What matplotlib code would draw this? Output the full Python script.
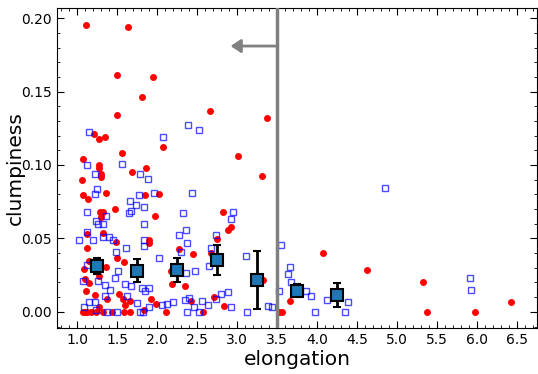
import matplotlib
matplotlib.use("Agg")
import matplotlib.pyplot as plt
from matplotlib.ticker import MultipleLocator

red_x = [1.11, 1.64, 1.50, 1.95, 1.81, 2.66, 1.50, 1.21, 1.27, 1.35, 2.07, 1.56, 1.08,
         3.37, 3.01, 3.31, 1.28, 1.27, 1.69, 1.86, 1.30, 1.30, 1.06, 1.36, 1.07, 1.14,
         1.85, 2.02, 1.48, 1.29, 1.33, 1.30, 1.98, 2.83, 2.92, 2.89, 1.13, 1.33, 1.49,
         1.90, 1.90, 2.75, 1.12, 2.27, 2.45, 2.67, 1.50, 1.15, 1.59, 1.36, 1.09, 2.18,
         1.27, 1.10, 1.15, 2.19, 2.35, 3.33, 4.08, 4.63, 5.33, 6.43, 1.11, 1.22, 1.38,
         1.52, 1.57, 1.66, 1.60, 1.27, 1.92, 1.99, 2.43, 2.71, 2.84, 3.66, 1.84,
         1.07, 1.10, 1.13, 1.17, 1.24, 1.32, 1.44, 1.59, 1.66, 2.11, 2.57, 3.53, 3.56,
         5.38, 5.97]
red_y = [0.195, 0.194, 0.161, 0.160, 0.146, 0.137, 0.134, 0.121, 0.118, 0.119, 0.1125,
         0.108, 0.104, 0.132, 0.106, 0.0927, 0.0998, 0.098, 0.095, 0.0977, 0.094, 0.0916,
         0.090, 0.0812, 0.0798, 0.0771, 0.0796, 0.0803, 0.0699, 0.068, 0.068, 0.0649,
         0.065, 0.068, 0.058, 0.056, 0.053, 0.054, 0.0476, 0.049, 0.047, 0.0497, 0.0433,
         0.043, 0.0395, 0.040, 0.0365, 0.0347, 0.0338, 0.0304, 0.029, 0.028, 0.0245,
         0.0222, 0.0195, 0.0188, 0.0177, 0.0218, 0.0403, 0.0284, 0.0204, 0.0066, 0.0143,
         0.0116, 0.0086, 0.012, 0.0086, 0.0075, 0.0048, 0.0036, 0.0086, 0.0056, 0.0073,
         0.0102, 0.0039, 0.0073, 0.001,
         0, 0, 0, 0, 0, 0, 0, 0, 0, 0, 0, 0, 0, 0, 0]

blue_x = [1.15, 2.08, 2.39, 2.52, 1.12, 1.56, 1.22, 1.79, 1.89, 1.25, 1.23, 1.77, 1.96,
          2.44, 1.66, 1.74, 1.84, 2.95, 2.92, 1.12, 1.67, 1.65, 1.36, 1.24, 1.26, 1.32,
          1.84, 2.32, 1.12, 1.20, 1.02, 1.33, 1.40, 1.45, 1.84, 1.84, 2.36, 2.27, 2.74,
          2.38, 1.61, 1.49, 2.30, 2.67, 2.02, 1.13, 1.51, 2.65, 2.36, 2.48, 3.11, 3.55,
          4.85, 3.66, 3.64, 3.68, 1.48, 1.07, 1.26, 1.60, 1.68, 1.35, 1.81, 1.85, 1.90,
          1.41, 1.35, 1.63, 1.75, 1.15, 1.22, 1.09, 1.24, 1.90, 2.06, 2.13, 2.20, 2.35,
          2.40, 2.56, 2.64, 2.89, 2.80, 2.74, 2.92, 2.46, 3.52, 3.86, 3.93, 4.13, 4.39,
          3.39, 3.44, 5.91, 5.93,
          1.38, 1.50, 1.79, 1.83, 2.37, 2.52, 3.13, 3.98, 4.35]
blue_y = [0.1226, 0.119, 0.127, 0.124, 0.100, 0.101, 0.0937, 0.0937, 0.0907, 0.0839,
          0.0805, 0.0798, 0.0807, 0.081, 0.0755, 0.0728, 0.0712, 0.068, 0.063, 0.0678,
          0.069, 0.0675, 0.065, 0.062, 0.060, 0.060, 0.0597, 0.067, 0.0547, 0.0488,
          0.049, 0.0508, 0.0512, 0.049, 0.0488, 0.045, 0.056, 0.052, 0.052, 0.047,
          0.0437, 0.041, 0.041, 0.0435, 0.037, 0.032, 0.028, 0.031, 0.0265, 0.028,
          0.0383, 0.0454, 0.0844, 0.0308, 0.0256, 0.0206, 0.0231, 0.021, 0.021, 0.0193,
          0.0179, 0.0184, 0.0159, 0.0145, 0.0165, 0.0148, 0.011, 0.011, 0.0063, 0.0066,
          0.0068, 0.0036, 0.0014, 0.0036, 0.005, 0.0052, 0.0066, 0.0082, 0.0093, 0.0073,
          0.005, 0.0134, 0.0122, 0.0086, 0.0032, 0.003, 0.0141, 0.0145, 0.0109, 0.008,
          0.0066, 0.0043, 0.0036, 0.0233, 0.0152,
          0, 0, 0, 0, 0, 0, 0, 0, 0]

bin_x = [1.25, 1.75, 2.25, 2.75, 3.25, 3.75, 4.25]
bin_y = [0.0315, 0.0281, 0.0286, 0.0354, 0.0218, 0.0143, 0.0116]
bin_err = [0.0055, 0.008, 0.008, 0.0102, 0.0198, 0.0044, 0.0082]

cut_x = 3.5
arrow_end_x = 2.92
arrow_y = 0.181

fig = plt.figure(figsize=(5.38, 3.74), dpi=100)
ax = fig.add_axes([0.106, 0.123, 0.892, 0.856])

ax.plot(red_x, red_y, 'o', color='red', markersize=5, markeredgewidth=0, zorder=2)
ax.plot(blue_x, blue_y, 's', markerfacecolor='none', markeredgecolor='blue',
        markersize=5, markeredgewidth=1.0, alpha=0.7, zorder=3)
ax.axvline(cut_x, color='gray', lw=2.5, zorder=4)
ax.annotate('', xy=(arrow_end_x, arrow_y), xytext=(cut_x, arrow_y),
            arrowprops=dict(arrowstyle='-|>,head_length=0.6,head_width=0.4',
                            color='gray', lw=2, shrinkA=0, shrinkB=0), zorder=4)
ax.errorbar(bin_x, bin_y, yerr=bin_err, fmt='s', color='#1f77b4', markersize=8,
            markeredgecolor='black', markeredgewidth=1.5, ecolor='black',
            elinewidth=2, capsize=3, capthick=2, zorder=5)

ax.set_xlim(0.75, 6.75)
ax.set_ylim(-0.011, 0.207)
ax.xaxis.set_major_locator(MultipleLocator(0.5))
ax.xaxis.set_minor_locator(MultipleLocator(0.1))
ax.yaxis.set_major_locator(MultipleLocator(0.05))
ax.yaxis.set_minor_locator(MultipleLocator(0.01))
ax.tick_params(which='both', direction='in', top=True, right=True, labelsize=10)
ax.tick_params(which='major', length=5)
ax.tick_params(which='minor', length=2.5)
ax.set_xlabel('elongation', fontsize=14.5, labelpad=2)
ax.set_ylabel('clumpiness', fontsize=14.5)
ax.yaxis.set_label_coords(-0.068, 0.5)

fig.savefig('out.png', dpi=100)
